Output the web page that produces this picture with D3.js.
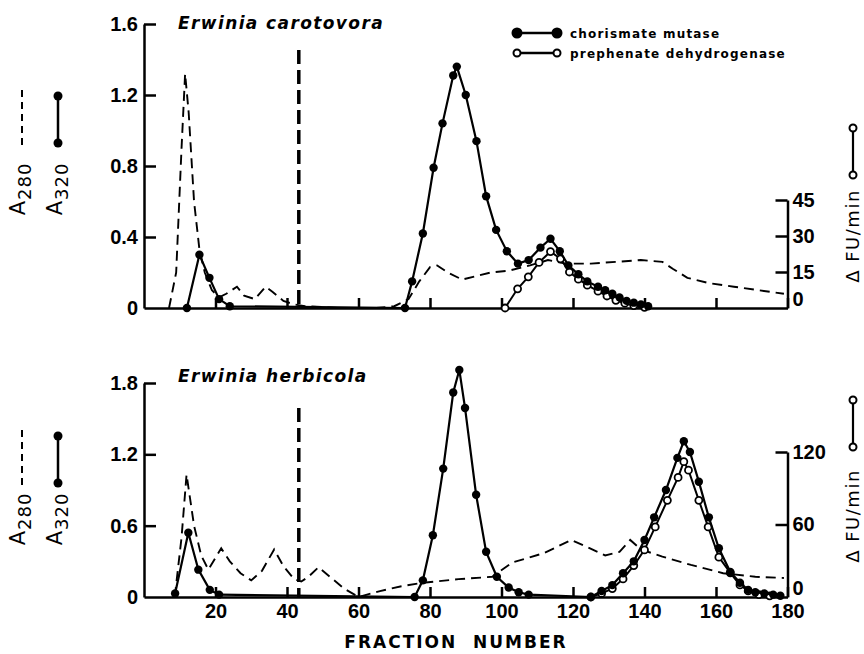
<!DOCTYPE html>
<html>
<head>
<meta charset="utf-8">
<script src="https://cdn.jsdelivr.net/npm/d3@7"></script>
<style>
  body { margin: 0; background: #fff; }
  svg { display: block; }
  text { font-family: "DejaVu Sans", sans-serif; font-weight: bold; fill: #000; }
</style>
</head>
<body>
<svg id="chart" width="864" height="654"></svg>
<script>
// values: [fraction number, value]
const xTicks = [20, 40, 60, 80, 100, 120, 140, 160, 180];
const voidFraction = 43.3;

// Erwinia carotovora
const carA280 = [[7,0],[9,0.2],[10.5,0.9],[11.5,1.32],[12.5,1.1],[14,0.6],[15.5,0.33],[17,0.2],[19,0.1],[21,0.06],[23,0.08],[26,0.12],[28,0.07],[31,0.05],[34,0.12],[36,0.09],[39,0.04],[42,0.02],[45,0.01],[55,0],[65,0],[70,0.01],[74,0.05],[77,0.15],[80,0.23],[82,0.24],[85,0.2],[89,0.16],[93,0.18],[97,0.2],[102,0.21],[108,0.24],[113,0.27],[118,0.25],[125,0.25],[132,0.26],[139,0.27],[145,0.26],[148,0.22],[152,0.17],[158,0.14],[165,0.12],[172,0.1],[179,0.08]];
const carCM = [[12,0],[15.5,0.30],[18.3,0.17],[21,0.05],[24,0.01],[73,0],[75,0.15],[78,0.42],[81,0.79],[83.5,1.04],[86.5,1.31],[87.5,1.36],[90,1.20],[93,0.94],[95.7,0.63],[98.5,0.44],[101.5,0.32],[104.6,0.25],[107.6,0.27],[110.9,0.34],[113.7,0.39],[116.3,0.32],[118.7,0.24],[121.5,0.19],[124,0.15],[127,0.12],[129,0.10],[131,0.08],[133,0.06],[135,0.04],[137,0.03],[139,0.02],[141,0.01]];
const carPD = [[101,0],[104.5,8],[107.5,13],[110.5,19],[113.7,23.5],[116.5,20.5],[119,15],[121.5,12],[124,9.5],[127,7],[129.5,5],[132,3.2],[134.5,2],[137,1],[140,0.3]];

// Erwinia herbicola
const herA280 = [[8.6,0],[10.5,0.5],[11.9,1.03],[14,0.6],[16,0.35],[18,0.23],[20,0.33],[21.6,0.41],[24,0.3],[27,0.2],[30,0.14],[33,0.22],[36.4,0.40],[39,0.26],[42,0.15],[44,0.13],[46,0.17],[48.8,0.25],[52,0.17],[56,0.07],[60,0],[66,0.05],[72,0.09],[78,0.12],[88,0.15],[97.4,0.17],[103,0.29],[112,0.37],[119.5,0.48],[124,0.42],[129,0.35],[133,0.38],[136,0.48],[139,0.40],[145,0.34],[153,0.27],[162,0.2],[171,0.17],[179,0.16]];
const herCM = [[8.7,0.03],[12.4,0.54],[15.2,0.23],[18.4,0.06],[21,0.02],[75.7,0],[78,0.14],[80.8,0.52],[83.7,1.08],[86.5,1.72],[88.2,1.91],[89.8,1.59],[92.9,0.86],[95.7,0.38],[98.7,0.17],[102,0.08],[104.8,0.04],[107.6,0.02],[125,0],[128,0.05],[131,0.10],[134,0.2],[137,0.3],[140,0.48],[142.7,0.67],[146,0.9],[149.2,1.17],[151,1.31],[152.7,1.22],[155.2,0.97],[158,0.67],[160.8,0.41],[164,0.21],[166.7,0.12],[169,0.06],[171,0.04],[173.5,0.03],[176,0.02],[178,0.01]];
const herPD = [[125,0],[128,3],[131,7],[134,15],[137,26],[140,39],[143,58],[146.4,80],[149.4,99],[151,112],[152.3,105],[155.2,80],[157.8,58],[160.8,33],[164,20],[166.7,10],[169,5],[172,2],[175,1]];

const carLeftTicks = [0, 0.4, 0.8, 1.2, 1.6];
const carRightTicks = [0, 15, 30, 45];
const herLeftTicks = [0, 0.6, 1.2, 1.8];
const herRightTicks = [0, 60, 120];

const svg = d3.select("#chart");

const x = d3.scaleLinear().domain([0, 180]).range([144, 787.5]);

const numFont = g => g.selectAll("text")
  .style("font-family", "'Liberation Sans', Arial, sans-serif")
  .style("font-weight", "bold")
  .style("font-size", "20px");

const panels = [
  { title: "Erwinia carotovora", a280: carA280, cm: carCM, pd: carPD,
    base: 308, leftMax: 1.6, leftTop: 24, leftTicks: carLeftTicks,
    rightMax: 45, rightTop: 200, rightTicks: carRightTicks,
    titleY: 29, markTop: 50, symTop: 96, labelY: 189, rSymTop: 128, rLabelY: 236, xLabels: false },
  { title: "Erwinia herbicola", a280: herA280, cm: herCM, pd: herPD,
    base: 597, leftMax: 1.8, leftTop: 383, leftTicks: herLeftTicks,
    rightMax: 120, rightTop: 452, rightTicks: herRightTicks,
    titleY: 382, markTop: 408, symTop: 436, labelY: 519, rSymTop: 400, rLabelY: 516, xLabels: true }
];

panels.forEach(p => {
  const yL = d3.scaleLinear().domain([0, p.leftMax]).range([p.base, p.leftTop]);
  const yR = d3.scaleLinear().domain([0, p.rightMax]).range([p.base, p.rightTop]);
  const g = svg.append("g");

  // left axis, ticks inward
  const la = g.append("g")
    .attr("transform", `translate(${x(0)},0)`)
    .call(d3.axisLeft(yL).tickValues(p.leftTicks).tickSize(-12).tickSizeOuter(0).tickPadding(6)
      .tickFormat(d => d === 0 ? "0" : d3.format(".1f")(d)));
  numFont(la);
  la.selectAll("line, path").attr("stroke", "#000").attr("stroke-width", 2.5);
  la.selectAll(".tick").filter(d => d === 0).select("line").remove();

  // right axis
  const ra = g.append("g")
    .attr("transform", `translate(${x(180)},0)`)
    .call(d3.axisRight(yR).tickValues(p.rightTicks).tickSize(-12).tickSizeOuter(0).tickPadding(5));
  numFont(ra);
  ra.selectAll("line, path").attr("stroke", "#000").attr("stroke-width", 2.5);
  ra.selectAll(".tick").filter(d => d === 0).select("line").remove();
  ra.selectAll(".tick").filter(d => d === 0).select("text").attr("y", -9);

  // fraction axis
  const xa = g.append("g")
    .attr("transform", `translate(0,${p.base})`)
    .call(d3.axisBottom(x).tickValues(xTicks).tickSize(-10).tickSizeOuter(0).tickPadding(7));
  xa.selectAll("line, path").attr("stroke", "#000").attr("stroke-width", 2.5);
  numFont(xa);
  if (!p.xLabels) xa.selectAll("text").remove();

  // void volume marker
  g.append("line")
    .attr("x1", x(voidFraction)).attr("x2", x(voidFraction))
    .attr("y1", p.markTop).attr("y2", p.base)
    .attr("stroke", "#000").attr("stroke-width", 3.5)
    .attr("stroke-dasharray", "14,6");

  const lineL = d3.line().x(d => x(d[0])).y(d => yL(d[1]));
  const lineR = d3.line().x(d => x(d[0])).y(d => yR(d[1]));

  // A280 dashed
  g.append("path").datum(p.a280)
    .attr("d", lineL).attr("fill", "none")
    .attr("stroke", "#000").attr("stroke-width", 1.9)
    .attr("stroke-dasharray", "10,6");

  // prephenate dehydrogenase (open)
  g.append("path").datum(p.pd)
    .attr("d", lineR).attr("fill", "none")
    .attr("stroke", "#000").attr("stroke-width", 2);
  g.selectAll(".pd").data(p.pd).join("circle")
    .attr("cx", d => x(d[0])).attr("cy", d => yR(d[1])).attr("r", 3.5)
    .attr("fill", "#fff").attr("stroke", "#000").attr("stroke-width", 1.8);

  // chorismate mutase (filled)
  g.append("path").datum(p.cm)
    .attr("d", lineL).attr("fill", "none")
    .attr("stroke", "#000").attr("stroke-width", 2.2);
  g.selectAll(".cm").data(p.cm).join("circle")
    .attr("cx", d => x(d[0])).attr("cy", d => yL(d[1])).attr("r", 4.2)
    .attr("fill", "#000");

  // title
  g.append("text")
    .attr("x", 178).attr("y", p.titleY)
    .style("font-size", "17px").style("font-style", "italic")
    .style("letter-spacing", "1.4px")
    .text(p.title);

  // left key: A280 dashed, A320 filled
  g.append("line")
    .attr("x1", 22).attr("x2", 22).attr("y1", p.symTop - 6).attr("y2", p.symTop + 49)
    .attr("stroke", "#000").attr("stroke-width", 2).attr("stroke-dasharray", "7,5");
  g.append("line")
    .attr("x1", 58).attr("x2", 58).attr("y1", p.symTop).attr("y2", p.symTop + 47)
    .attr("stroke", "#000").attr("stroke-width", 2.5);
  g.selectAll(".ks").data([p.symTop, p.symTop + 47]).join("circle")
    .attr("cx", 58).attr("cy", d => d).attr("r", 4.5).attr("fill", "#000");

  [["280", 18], ["320", 55]].forEach(([sub, cx]) => {
    const t = g.append("text")
      .attr("transform", `translate(${cx + 7},${p.labelY}) rotate(-90)`)
      .attr("text-anchor", "middle")
      .style("font-weight", "normal")
      .style("font-size", "21px").style("letter-spacing", "1px");
    t.append("tspan").text("A");
    t.append("tspan").attr("dy", 6).style("font-size", "18px").text(sub);
  });

  // right key: open circle line and ΔFU/min
  g.append("line")
    .attr("x1", 853).attr("x2", 853).attr("y1", p.rSymTop).attr("y2", p.rSymTop + 47)
    .attr("stroke", "#000").attr("stroke-width", 2.2);
  g.selectAll(".rk").data([p.rSymTop, p.rSymTop + 47]).join("circle")
    .attr("cx", 853).attr("cy", d => d).attr("r", 3.5)
    .attr("fill", "#fff").attr("stroke", "#000").attr("stroke-width", 2);
  g.append("text")
    .attr("transform", `translate(859,${p.rLabelY}) rotate(-90)`)
    .attr("text-anchor", "middle")
    .style("font-weight", "normal")
    .style("font-size", "18px").style("letter-spacing", "1.5px")
    .text("\u0394 FU/min");
});

// series key
const key = svg.append("g");
[["chorismate mutase", 33, "#000"], ["prephenate dehydrogenase", 53, "#fff"]].forEach(([label, ky, fill]) => {
  key.append("line").attr("x1", 517).attr("x2", 557).attr("y1", ky).attr("y2", ky)
    .attr("stroke", "#000").attr("stroke-width", 2.5);
  key.selectAll(null).data([517, 557]).join("circle")
    .attr("cx", d => d).attr("cy", ky).attr("r", fill === "#000" ? 4.5 : 3.5)
    .attr("fill", fill).attr("stroke", "#000").attr("stroke-width", 2);
  key.append("text").attr("x", 570).attr("y", ky + 5)
    .style("font-size", "12px").style("letter-spacing", "1.2px")
    .text(label);
});

svg.append("text")
  .attr("x", 456).attr("y", 648)
  .attr("text-anchor", "middle")
  .attr("xml:space", "preserve")
  .style("font-size", "17px").style("letter-spacing", "2px")
  .text("FRACTION  NUMBER");
</script>
</body>
</html>
